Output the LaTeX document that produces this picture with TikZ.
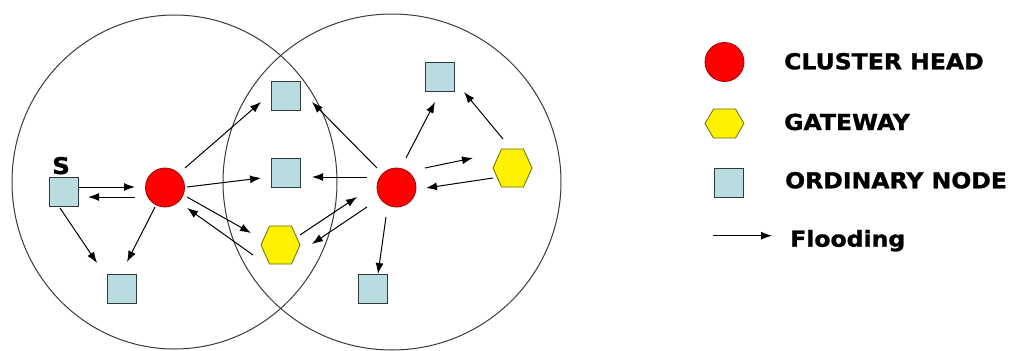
\documentclass[tikz,border=0pt]{standalone}
\usepackage{fontspec}
\setmainfont{DejaVu Sans}
\newfontfamily\lgfont[FakeStretch=1.07,FakeBold=1.2]{DejaVu Sans}
\usetikzlibrary{arrows.meta,calc}
\definecolor{sqfill}{HTML}{B8DCDF}
\definecolor{sqborder}{HTML}{2E3B3D}
\definecolor{chborder}{HTML}{A00000}
\definecolor{hexborder}{HTML}{6B6B10}
\definecolor{rangecol}{HTML}{3A3A3A}
\tikzset{
  clusterhead/.style={circle, fill=red, draw=chborder, line width=0.8pt, minimum size=39pt, inner sep=0pt, outer sep=0pt},
  ordnode/.style={rectangle, fill=sqfill, draw=sqborder, line width=0.9pt, minimum size=29pt, inner sep=0pt, outer sep=0pt},
  hexbox/.style={inner sep=0pt, outer sep=0pt, minimum width=39pt, draw=none},
  hexshape/.style={fill=yellow, draw=hexborder, line width=0.8pt},
  flood/.style={line width=1pt, -{Latex[length=11pt,width=8pt]}},
  rangeline/.style={draw=rangecol, line width=1pt},
  lbl/.style={font=\lgfont\bfseries\fontsize{22}{26}\selectfont, inner sep=0pt, anchor=base west}
}
\newcommand{\drawhex}[4]{%
  \node[hexbox, minimum height=#4pt] (#1) at (#2,#3) {};
  \filldraw[hexshape] (#1.west) -- ($(#1.north)+(-11,0)$) -- ($(#1.north)+(11,0)$) -- (#1.east)
     -- ($(#1.south)+(11,0)$) -- ($(#1.south)+(-11,0)$) -- cycle;
}
\begin{document}
\begin{tikzpicture}[x=1pt,y=-1pt]
\useasboundingbox (0,0) rectangle (1021,351);
% cluster ranges
\draw[rangeline] (174.5,182) ellipse [x radius=162.5, y radius=167];
\draw[rangeline] (392,182) ellipse [x radius=169, y radius=168];
% nodes
\node[ordnode] (s) at (64,192) {};
\node[lbl, font=\lgfont\bfseries\fontsize{23}{26}\selectfont] (slabel) at (52,174) {S};
\node[clusterhead] (ch1) at (165,187.5) {};
\node[ordnode] (b1) at (122,289) {};
\node[ordnode] (t1) at (285.5,96) {};
\node[ordnode] (m1) at (285.5,172.5) {};
\drawhex{g1}{280.5}{245}{38}
\node[clusterhead] (ch2) at (396.5,187.5) {};
\node[ordnode] (t2) at (440,76.5) {};
\drawhex{g2}{512.5}{168}{38}
\node[ordnode] (b2) at (373,289) {};
% flooding arrows
\draw[flood] ($(s)+(15,-5)$) -- ($(ch1)+(-30,-0.5)$);
\draw[flood] ($(ch1)+(-30,9.5)$) -- ($(s)+(24,5)$);
\draw[flood] ($(s)+(-4,16)$) -- ($(b1)+(-25,-26)$);
\draw[flood] ($(ch1)+(-10,19.5)$) -- ($(b1)+(5,-27)$);
\draw[flood] ($(ch1)+(20,-19.5)$) -- ($(t1)+(-24.5,6)$);
\draw[flood] ($(ch1)+(22,-0.5)$) -- ($(m1)+(-24.5,5.5)$);
\draw[flood] ($(ch1)+(22,9.5)$) -- ($(g1)+(-29.5,-12)$);
\draw[flood] ($(g1)+(-27.5,10)$) -- ($(ch1)+(22,20.5)$);
\draw[flood] ($(ch2)+(-19.5,-19.5)$) -- ($(t1)+(26.5,6)$);
\draw[flood] ($(ch2)+(-29.5,-10.5)$) -- ($(m1)+(26.5,4.5)$);
\draw[flood] ($(g1)+(19.5,-10)$) -- ($(ch2)+(-39.5,9.5)$);
\draw[flood] ($(ch2)+(-29.5,19.5)$) -- ($(g1)+(31.5,-1)$);
\draw[flood] ($(ch2)+(9.5,-29.5)$) -- ($(t2)+(-5,25.5)$);
\draw[flood] ($(ch2)+(28.5,-19.5)$) -- ($(g2)+(-39.5,-10)$);
\draw[flood] ($(g2)+(-19.5,10)$) -- ($(ch2)+(29.5,0.5)$);
\draw[flood] ($(g2)+(-9.5,-29)$) -- ($(t2)+(24,15.5)$);
\draw[flood] ($(ch2)+(-10.5,29.5)$) -- ($(b2)+(5,-15)$);
% legend
\node[clusterhead] (lch) at (724.5,62) {};
\node[lbl] (lchtext) at (784,69.3) {CLUSTER HEAD};
\drawhex{lg}{724.5}{123.5}{29}
\node[lbl] (lgtext) at (784,130) {GATEWAY};
\node[ordnode] (lo) at (728.5,182.5) {};
\node[lbl] (lotext) at (785,188.3) {ORDINARY NODE};
\coordinate (lfa) at (713,235.7);
\coordinate (lfb) at (772,235.7);
\draw[flood] (lfa) -- (lfb);
\node[lbl] (lftext) at (790,246.7) {Flooding};
\end{tikzpicture}
\end{document}
